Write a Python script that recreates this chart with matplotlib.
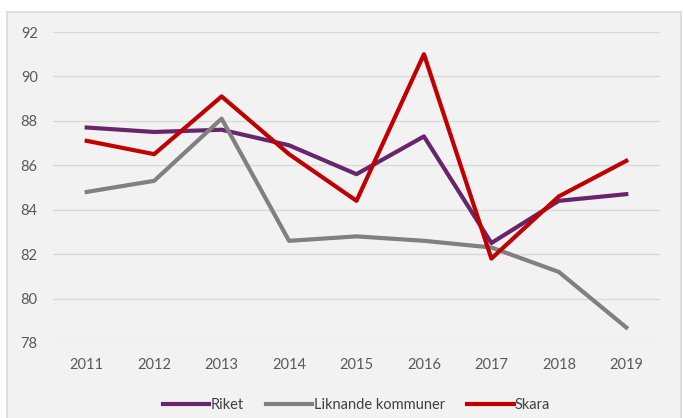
import matplotlib.pyplot as plt
from matplotlib.patches import Rectangle

plt.rcParams['font.family'] = ['Lato', 'DejaVu Sans']

years = ['2011', '2012', '2013', '2014', '2015', '2016', '2017', '2018', '2019']
riket = [87.7, 87.5, 87.6, 86.9, 85.6, 87.3, 82.5, 84.4, 84.7]
liknande = [84.8, 85.3, 88.1, 82.6, 82.8, 82.6, 82.3, 81.2, 78.7]
skara = [87.1, 86.5, 89.1, 86.5, 84.4, 91.0, 81.8, 84.6, 86.2]
yticks = [78, 80, 82, 84, 86, 88, 90, 92]

fig = plt.figure(figsize=(6.83, 4.18), dpi=100)
fig.patch.set_facecolor('white')
# grey panel behind the chart
fig.patches.append(Rectangle((7/683, -0.05), 674/683, 1.05 - 12/418,
                             transform=fig.transFigure, facecolor='#f2f2f2',
                             edgecolor='#d9d9d9', linewidth=1.2, zorder=-10))

ax = fig.add_axes([53/683, (418-343)/418, (660-53)/683, (343-32)/418])
ax.set_facecolor('none')
x = range(len(years))
ax.plot(x, riket, color='#68246d', linewidth=3, label='Riket')
ax.plot(x, liknande, color='#808080', linewidth=3, label='Liknande kommuner')
ax.plot(x, skara, color='#c00000', linewidth=3, label='Skara')

ax.set_xlim(-0.5, len(years) - 0.5)
ax.set_ylim(78, 92)
ax.set_yticks(yticks)
ax.set_xticks(list(x))
ax.set_xticklabels(years)
ax.grid(axis='y', color='#d9d9d9', linewidth=1)
ax.set_axisbelow(True)
for s in ax.spines.values():
    s.set_visible(False)
ax.tick_params(axis='both', length=0, labelsize=10.5, labelcolor='#595959')
ax.tick_params(axis='y', pad=11)
ax.tick_params(axis='x', pad=11)

ax.legend(loc='upper center', bbox_to_anchor=(0.5, -0.135), ncol=3, frameon=False,
          fontsize=10.5, handlelength=3.2, handletextpad=0.1, columnspacing=1.5,
          labelcolor='#404040')

fig.savefig('out.png', dpi=100)
